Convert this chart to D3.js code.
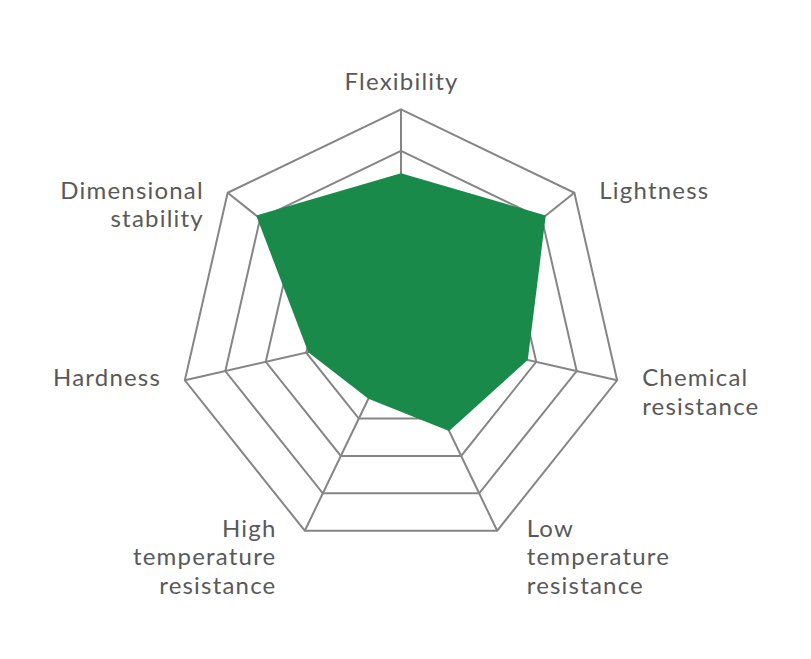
<!DOCTYPE html>
<html>
<head>
<meta charset="utf-8">
<script src="https://cdn.jsdelivr.net/npm/d3@7"></script>
<style>
html,body{margin:0;padding:0;background:#fff;}
svg{display:block;}
</style>
</head>
<body>
<svg id="chart" width="811" height="659"></svg>
<script>
// ---- data ----
const categories = ["Flexibility", "Lightness", "Chemical resistance", "Low temperature resistance", "High temperature resistance", "Hardness", "Dimensional stability"];
const labelLines = [["Flexibility"], ["Lightness"], ["Chemical", "resistance"], ["Low", "temperature", "resistance"], ["High", "temperature", "resistance"], ["Hardness"], ["Dimensional", "stability"]];
const values = [2.46, 3.12, 1.79, 1.33, 0.47, 0.95, 3.12];
const levels = [1, 2, 3, 4];

// ---- layout ----
const cx = 401, cy = 331, R = 221.7, rZero = 55.7;
const svg = d3.select("#chart");
const n = categories.length;
const angle = d3.scaleLinear().domain([0, n]).range([-Math.PI / 2, 1.5 * Math.PI]);
const r = d3.scaleLinear().domain([0, 4]).range([rZero, R]);
const pt = (i, rad) => [cx + rad * Math.cos(angle(i)), cy + rad * Math.sin(angle(i))];

const g = svg.append("g");
const gridColor = "#858585";

// spokes
g.selectAll("line.spoke").data(categories).join("line")
  .attr("class", "spoke")
  .attr("x1", cx).attr("y1", cy)
  .attr("x2", (d, i) => pt(i, R)[0]).attr("y2", (d, i) => pt(i, R)[1])
  .attr("stroke", gridColor).attr("stroke-width", 2);

// rings
const ringLine = d3.line().curve(d3.curveLinearClosed);
g.selectAll("path.ring").data(levels).join("path")
  .attr("class", "ring")
  .attr("d", lv => ringLine(d3.range(n).map(i => pt(i, r(lv)))))
  .attr("fill", "none").attr("stroke", gridColor).attr("stroke-width", 2)
  .attr("stroke-linejoin", "miter");

// data area
g.append("path")
  .attr("d", ringLine(values.map((v, i) => pt(i, r(v)))))
  .attr("fill", "#1a8a4b");

// labels
const font = "Lato, 'Open Sans', sans-serif";
const ls = 1.2;
labelLines.forEach((lines, i) => {
  const [vx, vy] = pt(i, R);
  let x, y0, anchor;
  if (i === 0) { x = vx + ls / 2; y0 = vy - 19; anchor = "middle"; }
  else {
    const bottom = (i === 3 || i === 4);
    const off = bottom ? 29.5 : 25;
    const right = vx > cx;
    x = right ? vx + off : vx - off + ls;
    anchor = right ? "start" : "end";
    y0 = vy + 5.8;
  }
  const t = svg.append("text")
    .attr("x", x).attr("y", y0)
    .attr("text-anchor", anchor)
    .attr("font-family", font)
    .attr("font-size", 24)
    .attr("letter-spacing", ls)
    .attr("fill", "#595959");
  lines.forEach((ln, k) => {
    t.append("tspan").attr("x", x).attr("y", y0 + k * 28.5).text(ln);
  });
});
</script>
</body>
</html>
